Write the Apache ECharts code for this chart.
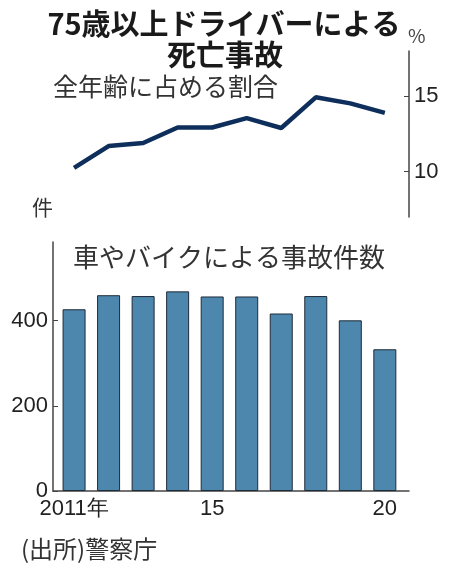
<!DOCTYPE html>
<html>
<head>
<meta charset="utf-8">
<script src="https://cdn.jsdelivr.net/npm/echarts@6/dist/echarts.min.js"></script>
<style>
  html, body { margin: 0; padding: 0; background: #fff; }
  #chart { width: 450px; height: 571px; }
</style>
</head>
<body>
<div id="chart"></div>
<script>
// 年（2011〜2020）
const years = [2011, 2012, 2013, 2014, 2015, 2016, 2017, 2018, 2019, 2020];
// 全年齢に占める割合（%）
const shareValues = [10.25, 11.7, 11.9, 12.93, 12.93, 13.55, 12.9, 14.93, 14.53, 13.9];
// 車やバイクによる事故件数（件）
const accidentCounts = [427, 460, 458, 469, 457, 457, 417, 458, 401, 333];
// tick labels
const shareTicks = [10, 15];
const countTicks = [0, 200, 400];
const yearTicks = [2011, 2015, 2020];

const numFont = '"Liberation Sans Narrow", "Liberation Sans", sans-serif';
const jpFont = '"Noto Sans CJK JP", sans-serif';
const axisColor = '#444';

const chart = echarts.init(document.getElementById('chart'));

const option = {
  animation: false,
  backgroundColor: '#fff',
  grid: [
    { left: 53, right: 41, top: 51, height: 166 },
    { left: 53, right: 41, top: 242, height: 249 }
  ],
  xAxis: [
    {
      type: 'value', gridIndex: 0, min: 2010.39, max: 2020.7,
      show: false
    },
    {
      type: 'value', gridIndex: 1, min: 2010.39, max: 2020.7,
      splitLine: { show: false },
      axisLine: { show: true, lineStyle: { color: axisColor, width: 1.5 } },
      axisTick: { show: false },
      axisLabel: {
        customValues: yearTicks,
        margin: 7,
        fontFamily: numFont,
        fontSize: 22,
        color: '#222',
        formatter: v => v === 2011 ? '2011年' : String(v).slice(2)
      }
    }
  ],
  yAxis: [
    {
      type: 'value', gridIndex: 0, position: 'right', min: 7, max: 18,
      splitLine: { show: false },
      axisLine: { show: true, lineStyle: { color: axisColor, width: 1.5 } },
      axisTick: { show: true, inside: true, length: 5, customValues: shareTicks, lineStyle: { color: axisColor } },
      axisLabel: { customValues: shareTicks, margin: 5, fontFamily: numFont, fontSize: 22, color: '#222' }
    },
    {
      type: 'value', gridIndex: 1, min: 0, max: 585,
      splitLine: { show: false },
      axisLine: { show: true, lineStyle: { color: axisColor, width: 1.5 } },
      axisTick: { show: true, inside: true, length: 5, customValues: countTicks, lineStyle: { color: axisColor } },
      axisLabel: { customValues: countTicks, margin: 5, fontFamily: numFont, fontSize: 22, color: '#222' }
    }
  ],
  series: [
    {
      type: 'line', xAxisIndex: 0, yAxisIndex: 0,
      data: years.map((y, i) => [y, shareValues[i]]),
      symbol: 'none',
      lineStyle: { color: '#0e2f5c', width: 4.5 }
    },
    {
      type: 'bar', xAxisIndex: 1, yAxisIndex: 1,
      data: years.map((y, i) => [y, accidentCounts[i]]),
      barWidth: 23,
      itemStyle: { color: '#4d87ae', borderColor: '#1e2b38', borderWidth: 1 }
    }
  ],
  graphic: [
    { type: 'text', style: { text: '75歳以上ドライバーによる', x: 224, y: 24, align: 'center', verticalAlign: 'middle', font: 'bold 29px ' + jpFont, fill: '#1a1a1a' } },
    { type: 'text', style: { text: '死亡事故', x: 225, y: 55, align: 'center', verticalAlign: 'middle', font: 'bold 29px ' + jpFont, fill: '#1a1a1a' } },
    { type: 'text', style: { text: '%', x: 408, y: 36, align: 'left', verticalAlign: 'middle', font: '19px ' + jpFont, fill: '#444' } },
    { type: 'text', style: { text: '全年齢に占める割合', x: 53, y: 86, align: 'left', verticalAlign: 'middle', font: '25px ' + jpFont, fill: '#333' } },
    { type: 'text', style: { text: '件', x: 32, y: 207, align: 'left', verticalAlign: 'middle', font: '21px ' + jpFont, fill: '#333' } },
    { type: 'text', style: { text: '車やバイクによる事故件数', x: 73, y: 257, align: 'left', verticalAlign: 'middle', font: '26px ' + jpFont, fill: '#333' } },
    { type: 'text', style: { text: '(出所)警察庁', x: 21, y: 549, align: 'left', verticalAlign: 'middle', font: '24px ' + jpFont, fill: '#333' } }
  ]
};

chart.setOption(option);
</script>
</body>
</html>
